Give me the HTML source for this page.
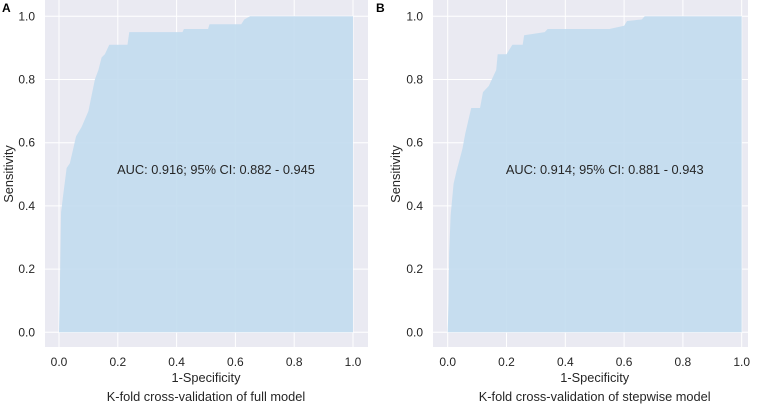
<!DOCTYPE html>
<html><head><meta charset="utf-8"><style>
html,body{margin:0;padding:0;background:#fff;}
svg{display:block;font-family:"Liberation Sans",Arial,sans-serif;}
</style></head><body>
<svg id="chart" width="758" height="405" viewBox="0 0 758 405" xmlns="http://www.w3.org/2000/svg"></svg>
<script>
const fprA=[0,0.004,0.007,0.015,0.026,0.037,0.058,0.077,0.10,0.122,0.134,0.145,0.156,0.171,0.233,0.239,0.42,0.425,0.507,0.512,0.62,0.63,0.65,1];
const tprA=[0,0.20,0.38,0.44,0.52,0.535,0.62,0.65,0.70,0.80,0.83,0.87,0.88,0.91,0.91,0.95,0.95,0.96,0.96,0.975,0.975,0.99,1.0,1.0];
const fprB=[0,0.003,0.005,0.01,0.02,0.03,0.05,0.06,0.075,0.08,0.11,0.12,0.14,0.15,0.165,0.17,0.2,0.22,0.255,0.26,0.33,0.34,0.55,0.6,0.61,0.66,0.67,1];
const tprB=[0,0.10,0.25,0.37,0.47,0.51,0.58,0.63,0.69,0.71,0.71,0.76,0.78,0.80,0.83,0.88,0.88,0.91,0.91,0.94,0.95,0.96,0.96,0.97,0.985,0.99,1.0,1.0];
const ticks=[0,0.2,0.4,0.6,0.8,1.0];
const tickLabels=["0.0","0.2","0.4","0.6","0.8","1.0"];
const panels=[
 {id:"a",letter:"A",bg:[45,368],x0:59,x1:353,ylab:35,sens:9,fpr:fprA,tpr:tprA,auc:"AUC: 0.916; 95% CI: 0.882 - 0.945",cap:"K-fold cross-validation of full model"},
 {id:"b",letter:"B",bg:[433,748],x0:447.7,x1:741.7,ylab:423,sens:396,fpr:fprB,tpr:tprB,auc:"AUC: 0.914; 95% CI: 0.881 - 0.943",cap:"K-fold cross-validation of stepwise model"}
];
const svg=document.getElementById('chart');
const NS="http://www.w3.org/2000/svg";
function mk(t,a,txt){const e=document.createElementNS(NS,t);for(const k in a)e.setAttribute(k,a[k]);if(txt!==undefined)e.textContent=txt;svg.appendChild(e);return e;}
const yTop=16.3,yBot=332.3;
panels.forEach(p=>{
 const sx=v=>p.x0+(p.x1-p.x0)*v;
 const sy=v=>yBot-(yBot-yTop)*v;
 let e=mk('rect',{x:p.bg[0],y:0,width:p.bg[1]-p.bg[0],height:347,fill:'#eaeaf2'});
 
 
 ticks.forEach((t,i)=>{
  let g=mk('line',{x1:sx(t),x2:sx(t),y1:0,y2:347,stroke:'#fff','stroke-width':1});
  
  
  g=mk('line',{x1:p.bg[0],x2:p.bg[1],y1:sy(t),y2:sy(t),stroke:'#fff','stroke-width':1});
  
  
  let l=mk('text',{x:sx(t),y:366,'text-anchor':'middle','font-size':12,fill:'#262626'},tickLabels[i]);
  
  
  l=mk('text',{x:p.ylab,y:sy(t)+4,'text-anchor':'end','font-size':12,fill:'#262626'},tickLabels[i]);
  
  
 });
 let pts=p.fpr.map((f,i)=>sx(f)+','+sy(p.tpr[i]));
 pts.push(sx(1)+','+sy(0));
 let poly=mk('polygon',{points:pts.join(' '),fill:'#c2dcee','fill-opacity':0.9});
 
 
 let t=mk('text',{x:(p.x0+p.x1)/2+10,y:174,'text-anchor':'middle','font-size':12.8,fill:'#262626'},p.auc);
 
 
 t=mk('text',{x:(p.x0+p.x1)/2,y:382,'text-anchor':'middle','font-size':12.8,fill:'#262626'},'1-Specificity');
 
 
 t=mk('text',{x:(p.x0+p.x1)/2,y:401,'text-anchor':'middle','font-size':12.8,fill:'#262626'},p.cap);
 
 
 t=mk('text',{x:p.sens+4,y:174,'text-anchor':'middle','font-size':12.8,fill:'#262626',transform:'rotate(-90 '+(p.sens+4)+' 174)'},'Sensitivity');
 
 
 t=mk('text',{x:p.id==='a'?2:376,y:12,'font-size':12,'font-weight':'bold',fill:'#000'},p.letter);
 
 
});
</script>
</body></html>
